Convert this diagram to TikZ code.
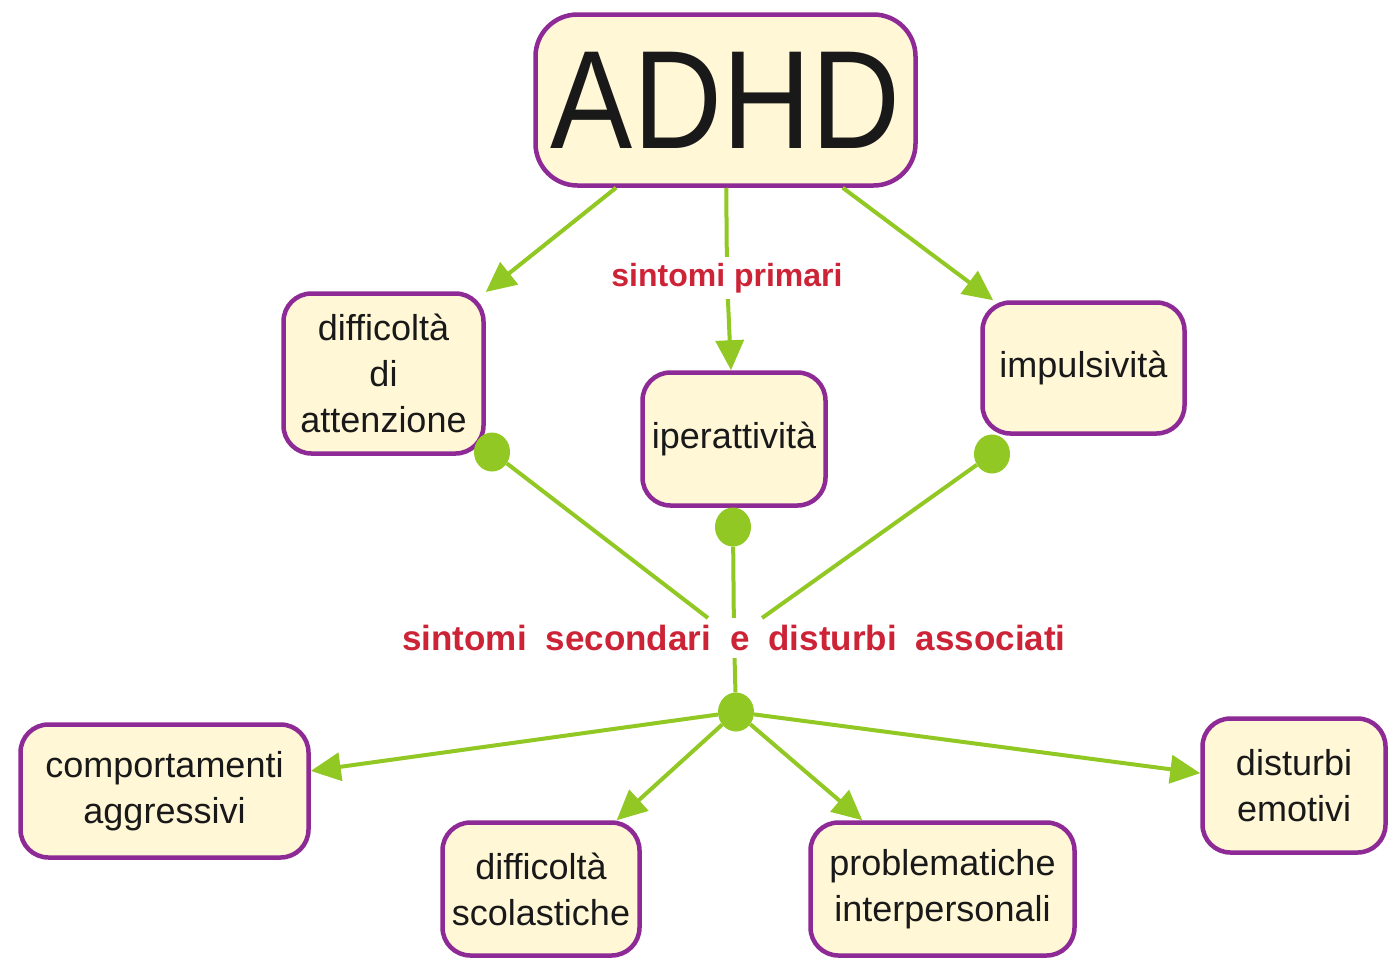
\documentclass[tikz,border=0pt]{standalone}
\usepackage{fontspec}
\setmainfont{Liberation Sans}
\usetikzlibrary{arrows.meta,shapes.geometric}
\definecolor{purp}{RGB}{142,42,150}
\definecolor{cream}{RGB}{255,247,214}
\definecolor{lgreen}{RGB}{145,200,35}
\definecolor{lred}{RGB}{205,35,55}
\definecolor{txt}{RGB}{25,25,25}
\begin{document}
\begin{tikzpicture}[x=1pt,y=-1pt,
  concept/.style={draw=purp, line width=4.5pt, fill=cream, rounded corners=28pt, align=center, text=txt, font=\fontsize{36}{46}\selectfont, inner sep=0pt},
  link/.style={text=lred, font=\bfseries\fontsize{32}{38}\selectfont, inner sep=6pt},
  conn/.style={draw=lgreen, line width=4pt},
  arr/.style={conn, -{Triangle[length=30pt,width=28pt]}},
  dot/.style={ellipse, fill=lgreen, minimum width=36pt, minimum height=39pt, inner sep=0pt}]
\fill[white] (0,0) rectangle (1391,962);
\useasboundingbox (0,0) rectangle (1391,962);

% concepts
\node[concept, rounded corners=42pt, minimum width=380pt, minimum height=171pt, font=\fontsize{140}{140}\selectfont] (adhd) at (725.5,100) {\scalebox{0.88}[1]{ADHD}};
\node[concept, minimum width=200pt, minimum height=160pt] (att) at (383.5,373.5) {difficoltà\\di\\attenzione};
\node[concept, minimum width=183pt, minimum height=133pt] (iper) at (734,439) {iperattività};
\node[concept, minimum width=202pt, minimum height=131pt] (imp) at (1083.5,368) {impulsività};
\node[concept, minimum width=288pt, minimum height=133pt] (comp) at (164.5,791) {comportamenti\\aggressivi};
\node[concept, minimum width=197pt, minimum height=133pt] (scol) at (541,889) {difficoltà\\scolastiche};
\node[concept, minimum width=264pt, minimum height=133pt] (prob) at (942.5,889) {problematiche\\interpersonali};
\node[concept, minimum width=183pt, minimum height=134pt] (dist) at (1294,785.5) {disturbi\\emotivi};

% linking phrases
\node[link] (prim) at (727,278) {sintomi primari};
\node[link, inner ysep=7pt, font=\bfseries\fontsize{35}{40}\selectfont] (sec) at (734,638) {sintomi\hspace{19pt}secondari\hspace{19pt}e\hspace{19pt}disturbi\hspace{19pt}associati};

% primary connections
\draw[arr] (adhd) -- (att);
\draw[conn] (adhd) -- (prim);
\draw[arr] (prim) -- (iper);
\draw[arr] (adhd) -- (imp);

% secondary connections
\node[dot] (d1) at (492,452) {};
\node[dot] (d2) at (733,527) {};
\node[dot] (d3) at (992,454) {};
\node[dot] (d4) at (736,712) {};
\draw[conn] (d1) -- (sec);
\draw[conn] (d2) -- (sec);
\draw[conn] (d3) -- (sec);
\draw[conn] (sec) -- (d4);
\draw[arr] (d4) -- (comp);
\draw[arr] (d4) -- (scol);
\draw[arr] (d4) -- (prob);
\draw[arr] (d4) -- (dist);
\end{tikzpicture}
\end{document}
